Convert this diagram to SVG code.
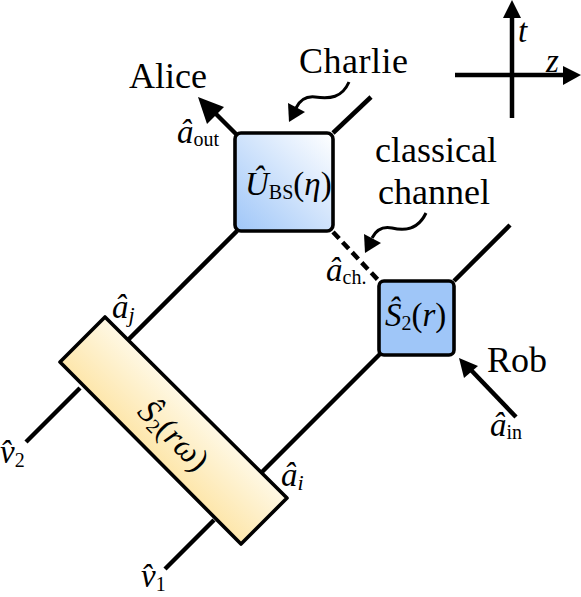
<svg xmlns="http://www.w3.org/2000/svg" width="581" height="597" viewBox="0 0 581 597">
<style>
.t{font-family:"Liberation Serif","Times New Roman",serif;fill:#000;font-size:36px}
.m{font-style:italic}
.l{font-family:"Liberation Serif","Times New Roman",serif;fill:#000;font-size:33px}
.s{font-size:20px;font-style:normal}
.si{font-size:22px;font-style:italic}
.w{fill:none;stroke:#000;stroke-width:4.5}
.t3{stroke-width:3}
.b{stroke:#000;stroke-width:3.6;stroke-linejoin:round}
.h{fill:#000}
</style>
<defs>
<linearGradient id="gu" gradientUnits="userSpaceOnUse" x1="236" y1="232" x2="333" y2="134"><stop offset="0" stop-color="#9fc6f8"/><stop offset="1" stop-color="#ffffff"/></linearGradient>
<linearGradient id="gy" gradientUnits="userSpaceOnUse" x1="140" y1="470" x2="215" y2="395"><stop offset="0" stop-color="#fde19a"/><stop offset="1" stop-color="#fffef8"/></linearGradient>
</defs>
<g id="connectors">
<line class="w" x1="237" y1="135" x2="208" y2="106"/>
<polygon class="h" points="198,97 224,107 207,124"/>
<line class="w" x1="333" y1="133" x2="371" y2="97"/>
<line class="w" x1="237" y1="231" x2="128" y2="340"/>
<line class="w" x1="333" y1="232" x2="379" y2="281" stroke-dasharray="9 5"/>
<line class="w" x1="454" y1="281" x2="510" y2="225"/>
<line class="w" x1="380" y1="354" x2="262" y2="472"/>
<line class="w" x1="516" y1="417" x2="470" y2="369"/>
<polygon class="h" points="459,358 478,366 464,378"/>
<line class="w" x1="80" y1="388" x2="26" y2="442"/>
<line class="w" x1="214" y1="520" x2="165" y2="569"/>
<path class="w t3" d="M349,82C342,98 330,99 315,97C306,96 300,100 296,108"/>
<polygon class="h" points="289,122 288,103 305,112"/>
<path class="w t3" d="M426,213C418,230 405,231 392,228C382,226 376,230 372,238"/>
<polygon class="h" points="365,253 364,234 381,243"/>
<line class="w" x1="455" y1="75" x2="566" y2="75"/>
<polygon class="h" points="581,75 563,66 563,85"/>
<line class="w" x1="512" y1="118" x2="512" y2="16"/>
<polygon class="h" points="512,0 503,18 521,18"/>
</g>
<g id="node-ubs">
<rect class="b" x="235" y="133" width="98" height="98" rx="6" fill="url(#gu)"/>
<text class="l" x="245" y="195"><tspan class="m">Û</tspan><tspan class="s" dy="4">BS</tspan><tspan dy="-4">(</tspan><tspan class="m">η</tspan>)</text>
</g>
<g id="node-s2r">
<rect class="b" x="379" y="281" width="75" height="74" rx="5" fill="#9fc6f8"/>
<text class="l" x="385" y="326"><tspan class="m">Ŝ</tspan><tspan class="s" dy="4">2</tspan><tspan dy="-4">(</tspan><tspan class="m">r</tspan>)</text>
</g>
<g id="node-s2rw">
<polygon class="b" points="105,317 287,498 241,544 60,362" fill="url(#gy)"/>
<text class="l" transform="translate(166,443) rotate(45)" text-anchor="middle" x="0" y="0"><tspan class="m">Ŝ</tspan><tspan class="s" dy="4">2</tspan><tspan dy="-4">(</tspan><tspan class="m">rω</tspan>)</text>
</g>
<g id="labels">
<text class="t" x="129" y="88">Alice</text>
<text class="t" x="299" y="73" letter-spacing="0.5">Charlie</text>
<text class="t" x="375" y="162">classical</text>
<text class="t" x="378" y="204">channel</text>
<text class="t" x="487" y="372">Rob</text>
<text class="l" x="177" y="143"><tspan class="m">â</tspan><tspan class="s" dy="3">out</tspan></text>
<text class="l" x="326" y="281"><tspan class="m">â</tspan><tspan class="s" dy="3">ch.</tspan></text>
<text class="l" x="490" y="436"><tspan class="m">â</tspan><tspan class="s" dy="3">in</tspan></text>
<text class="l" x="112" y="318"><tspan class="m">â</tspan><tspan class="si" dy="4">j</tspan></text>
<text class="l" x="281" y="486"><tspan class="m">â</tspan><tspan class="si" dy="4">i</tspan></text>
<text class="l" x="0" y="463"><tspan class="m">v̂</tspan><tspan class="s" dy="4">2</tspan></text>
<text class="l" x="141" y="587"><tspan class="m">v̂</tspan><tspan class="s" dy="4">1</tspan></text>
<text class="l m" x="518" y="42">t</text>
<text class="l m" x="546" y="72">z</text>
</g>
</svg>
